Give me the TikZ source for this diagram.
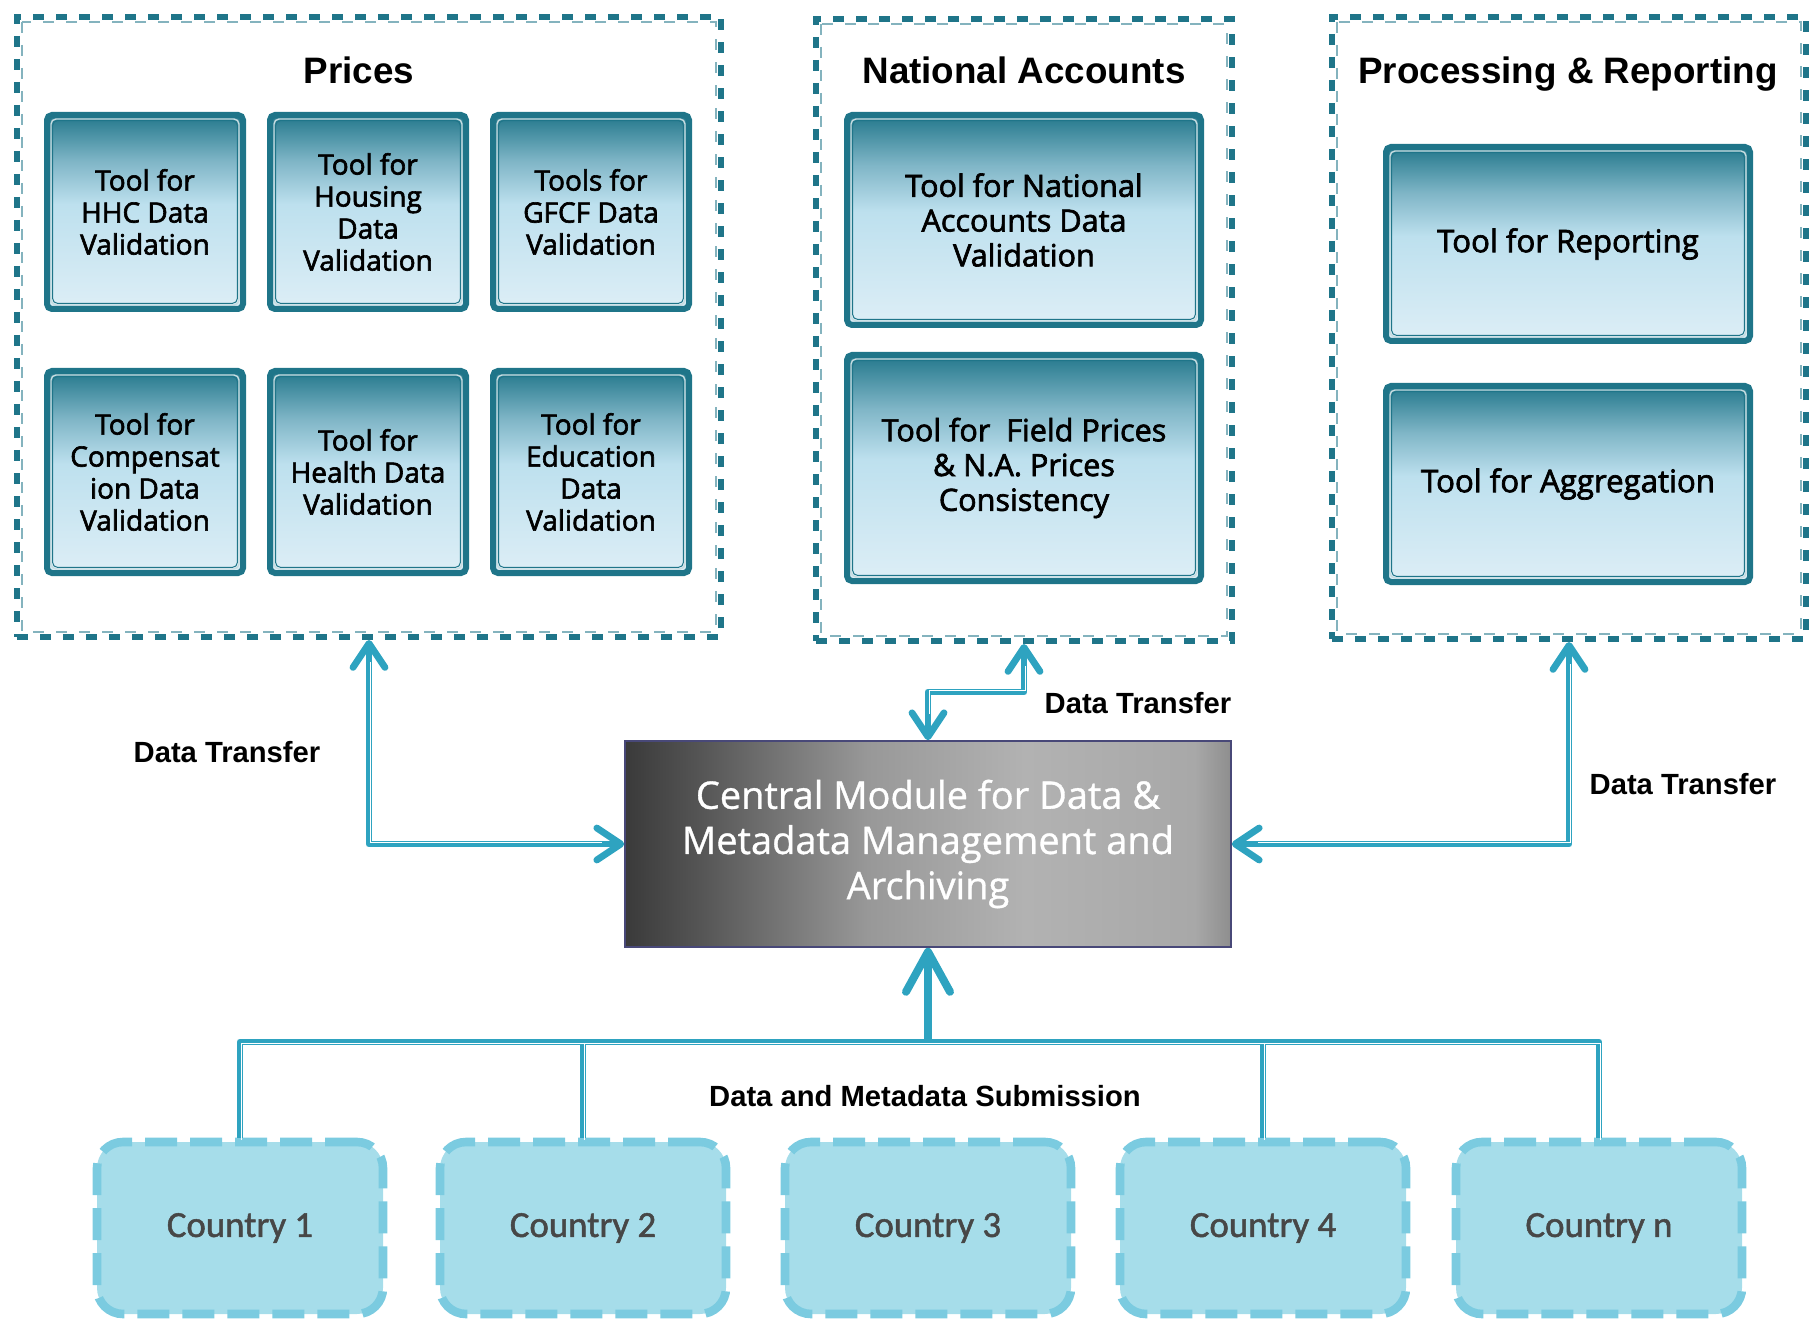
\documentclass[tikz,border=0pt]{standalone}
\usepackage{fontspec}
\setmainfont{Liberation Sans}
\newfontfamily\toolfont{Open Sans}[FakeBold=2.2]
\newfontfamily\centfont{Open Sans}[FakeBold=0.9]
\newfontfamily\ctryfont{Carlito}[FakeBold=1.4]
\usepackage{tikz}
\usetikzlibrary{arrows.meta}

\definecolor{boxline}{RGB}{31,117,137}
\definecolor{tooltop}{RGB}{36,120,140}
\definecolor{toolmid}{RGB}{128,182,199}
\definecolor{toollight}{RGB}{189,224,238}
\definecolor{toolbot}{RGB}{221,238,246}
\definecolor{linkc}{RGB}{46,163,192}
\definecolor{ctryfill}{RGB}{166,221,234}
\definecolor{ctryline}{RGB}{123,203,224}
\definecolor{ctrytext}{RGB}{71,71,71}
\definecolor{centline}{RGB}{72,72,120}
\definecolor{gA}{RGB}{58,58,58}
\definecolor{gB}{RGB}{84,84,84}
\definecolor{gC}{RGB}{152,152,152}
\definecolor{gD}{RGB}{178,178,178}
\definecolor{gE}{RGB}{168,168,168}
\definecolor{gF}{RGB}{142,142,142}

\pgfdeclareverticalshading{toolshade}{100bp}{color(0bp)=(toolbot); color(25bp)=(toolbot);
  color(52bp)=(toollight); color(63bp)=(toolmid); color(75bp)=(tooltop); color(100bp)=(tooltop)}
\pgfdeclarehorizontalshading{centshade}{100bp}{color(0bp)=(gA); color(25bp)=(gA);
  color(31bp)=(gB); color(45bp)=(gC); color(58bp)=(gD); color(72bp)=(gE); color(75bp)=(gF);
  color(100bp)=(gF)}

\tikzset{
  group/.style={draw=boxline, line width=3pt, dash pattern=on 5.5pt off 6pt,
    path picture={
      \draw[boxline!55!white, line width=0.6pt, dash pattern=on 5.5pt off 6pt]
        ([shift={(2.5pt,-2.5pt)}]path picture bounding box.north west) rectangle
        ([shift={(-2.5pt,2.5pt)}]path picture bounding box.south east);}},
  tool/.style={draw=boxline, line width=3pt, rounded corners=2.5pt, shading=toolshade,
    align=center, text=black, font=\toolfont\fontsize{14}{16}\selectfont,
    path picture={
      \draw[white!75!boxline, line width=0.7pt]
        ([shift={(2pt,-2pt)}]path picture bounding box.north west) rectangle
        ([shift={(-2pt,2pt)}]path picture bounding box.south east);
      \draw[boxline, line width=0.5pt]
        ([shift={(2.8pt,-2.8pt)}]path picture bounding box.north west) rectangle
        ([shift={(-2.8pt,2.8pt)}]path picture bounding box.south east);}},
  central/.style={draw=centline, line width=0.8pt, shading=centshade, text=white,
    align=center, font=\centfont\fontsize{19}{22.6}\selectfont},
  ctry/.style={draw=ctryline, fill=ctryfill, line width=4.3pt, dash pattern=on 16pt off 6.5pt,
    rounded corners=13pt, minimum width=143pt, minimum height=86pt, text=ctrytext,
    font=\ctryfont\fontsize{18.4}{22}\selectfont},
  title/.style={anchor=base, font=\bfseries\fontsize{18.4}{22}\selectfont},
  lbl/.style={font=\bfseries\fontsize{14.6}{17}\selectfont},
  link/.style={draw=linkc, line width=3.4pt, line join=round},
  gap/.style={draw=white, line width=0.45pt, shorten <=#1, shorten >=#1},
  gap/.default=12pt,
  tip/.style={{Straight Barb[length=12pt,width=16pt,round]}-{Straight Barb[length=12pt,width=16pt,round]}}
}

\begin{document}
\begin{tikzpicture}[x=0.5pt, y=-0.5pt]
  \useasboundingbox (0,0) rectangle (1816,1321);

  %%    % Prices
  \node[group, minimum width=352pt, minimum height=310pt] (prices) at (369,327) {};
  \node[title] (pricesT) at (359,84) {Prices};
  \foreach \x/\txt [count=\i] in {145/{Tool for\\HHC Data\\Validation},
                                  368/{Tool for\\Housing\\Data\\Validation},
                                  591/{Tools for\\GFCF Data\\Validation}} {
    \node[tool, minimum width=98pt, minimum height=97pt] (pa\i) at (\x,212) {\txt};
  }
  \foreach \x/\txt [count=\i] in {145/{Tool for\\Compensat\\ion Data\\Validation},
                                  368/{Tool for\\Health Data\\Validation},
                                  591/{Tool for\\Education\\Data\\Validation}} {
    \node[tool, minimum width=98pt, minimum height=101pt] (pb\i) at (\x,472) {\txt};
  }

  %%    % National Accounts
  \node[group, minimum width=208pt, minimum height=311pt] (natacc) at (1024,330) {};
  \node[title] (nataccT) at (1024,84) {National Accounts};
  \node[tool, minimum width=177pt, minimum height=105pt,
        font=\toolfont\fontsize{15.3}{17.4}\selectfont] (na1) at (1024,220)
        {Tool for National\\Accounts Data\\Validation};
  \node[tool, minimum width=177pt, minimum height=113pt,
        font=\toolfont\fontsize{15.3}{17.4}\selectfont] (na2) at (1024,468)
        {Tool for~ Field Prices\\\& N.A. Prices\\Consistency};

  %%    % Processing & Reporting
  \node[group, minimum width=237pt, minimum height=311pt] (procrep) at (1569,328) {};
  \node[title] (procrepT) at (1568,84) {Processing \& Reporting};
  \node[tool, minimum width=182pt, minimum height=97pt,
        font=\toolfont\fontsize{15.6}{18}\selectfont] (pr1) at (1568,244) {Tool for Reporting};
  \node[tool, minimum width=182pt, minimum height=98pt,
        font=\toolfont\fontsize{15.6}{18}\selectfont] (pr2) at (1568,484) {Tool for Aggregation};

  %%    % central module
  \node[central, minimum width=303pt, minimum height=103pt] (central) at (928,844)
    {Central Module for Data \&\\Metadata Management and\\Archiving};

  %%    % countries
  \foreach \x/\n [count=\i] in {240/1, 583/2, 928/3, 1263/4, 1599/n} {
    \node[ctry] (c\i) at (\x,1228) {Country \n};
  }
  \coordinate (bus) at (928,1042);
  \coordinate (jog) at (976,692);

  %%    % transfers
  \draw[link, tip] (prices.south) |- (central.west);
  \draw[link, tip] (procrep.south) |- (central.east);
  \draw[link, tip] (natacc.south) |- (jog) -| (central.north);
  \draw[link] (c1.north) |- (bus) -| (c5.north);
  \draw[link] (c2.north) |- (bus);
  \draw[link] (c4.north) |- (bus);
  \draw[linkc, line width=4pt, -{Straight Barb[length=20pt,width=22pt,round]}] (bus) -- (central.south);
  \begin{scope}[transform canvas={shift={(0.9pt,0.9pt)}}]
    \draw[gap] (prices.south) |- (central.west);
    \draw[gap] (procrep.south) |- (central.east);
    \draw[gap] (natacc.south) |- (jog) -| (central.north);
  \end{scope}
  \begin{scope}[transform canvas={shift={(0.9pt,-0.9pt)}}]
    \draw[gap=0pt] (c1.north) |- (bus) -| (c5.north);
    \draw[gap=0pt] (c2.north) |- (bus);
    \draw[gap=0pt] (c4.north) |- (bus);
  \end{scope}

  \node[lbl] (dtL) at (227,752) {Data Transfer};
  \node[lbl] (dtM) at (1138,703) {Data Transfer};
  \node[lbl] (dtR) at (1683,784) {Data Transfer};
  \node[lbl] (sub) at (925,1096) {Data and Metadata Submission};
\end{tikzpicture}
\end{document}
